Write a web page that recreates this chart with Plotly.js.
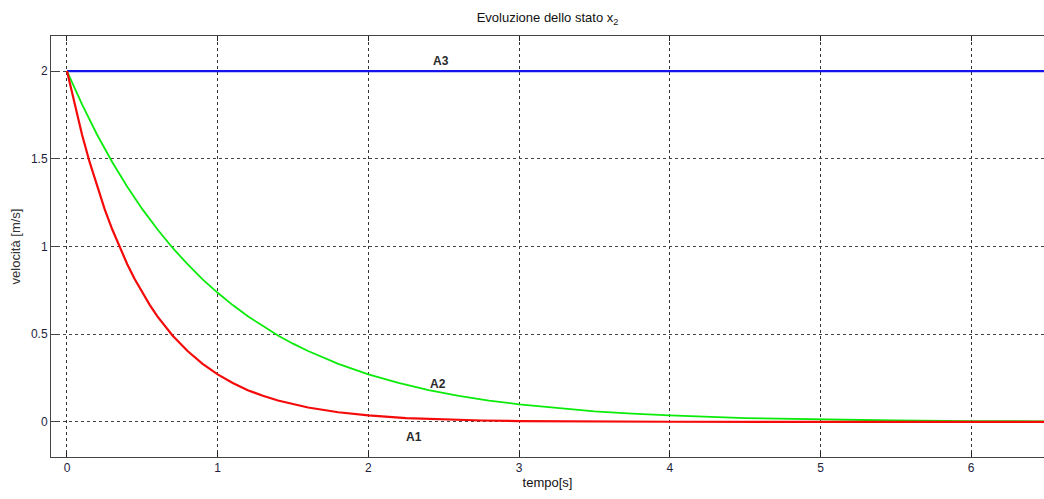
<!DOCTYPE html>
<html>
<head>
<meta charset="utf-8">
<script src="https://cdn.plot.ly/plotly-3.0.1.min.js"></script>
<style>
  html, body { margin: 0; padding: 0; background: #fff; }
  #chart { width: 1044px; height: 499px; }
</style>
</head>
<body>
<div id="chart"></div>
<script>
// Time samples [s] and state x2 (velocity, m/s) for the three cases
const tA1 = [0, 0.05, 0.1, 0.15, 0.2, 0.25, 0.3, 0.35, 0.4, 0.45, 0.5, 0.55, 0.6, 0.7, 0.8, 0.9, 1.0, 1.1, 1.2, 1.3, 1.4, 1.5, 1.6, 1.8, 2.0, 2.25, 2.5, 2.75, 3.0, 3.5, 4.0, 5.0, 6.5];
const vA1 = [2.0, 1.810, 1.637, 1.482, 1.341, 1.213, 1.098, 0.993, 0.899, 0.813, 0.736, 0.666, 0.602, 0.493, 0.404, 0.331, 0.271, 0.222, 0.181, 0.149, 0.122, 0.100, 0.082, 0.055, 0.037, 0.022, 0.013, 0.008, 0.005, 0.002, 0.001, 0.0, 0.0];

const tA2 = [0, 0.1, 0.2, 0.3, 0.4, 0.5, 0.6, 0.7, 0.8, 0.9, 1.0, 1.1, 1.2, 1.3, 1.4, 1.5, 1.6, 1.8, 2.0, 2.2, 2.4, 2.6, 2.8, 3.0, 3.25, 3.5, 3.75, 4.0, 4.5, 5.0, 5.5, 6.0, 6.5];
const vA2 = [2.0, 1.810, 1.637, 1.482, 1.341, 1.213, 1.098, 0.993, 0.899, 0.813, 0.736, 0.666, 0.602, 0.545, 0.493, 0.446, 0.404, 0.331, 0.271, 0.222, 0.181, 0.149, 0.122, 0.100, 0.078, 0.060, 0.047, 0.037, 0.022, 0.013, 0.008, 0.005, 0.003];

const tA3 = [0, 6.5];
const vA3 = [2, 2];

// Curve labels and where they sit
const labelText = ["A3", "A2", "A1"];
const labelT = [2.48, 2.46, 2.30];
const labelV = [2.06, 0.215, -0.085];

const xTicks = [0, 1, 2, 3, 4, 5, 6];
const yTicks = [0, 0.5, 1, 1.5, 2];

const font = "Liberation Sans, Arial, sans-serif";

const traces = [
  { x: tA3, y: vA3, mode: "lines", line: { color: "rgb(20,20,235)", width: 2.2 }, name: "A3" },
  { x: tA2, y: vA2, mode: "lines", line: { color: "rgb(10,235,10)", width: 1.8 }, name: "A2" },
  { x: tA1, y: vA1, mode: "lines", line: { color: "rgb(245,10,10)", width: 2.2 }, name: "A1" }
];

const annotations = labelText.map((s, i) => ({
  x: labelT[i], y: labelV[i], xref: "x", yref: "y",
  text: "<b>" + s + "</b>", showarrow: false,
  font: { family: font, size: 12, color: "#2a2a2a" }
}));

const layout = {
  width: 1044, height: 499,
  margin: { l: 51, r: 0, t: 36, b: 42 },
  paper_bgcolor: "#fff", plot_bgcolor: "#fff",
  showlegend: false,
  font: { family: font, size: 12, color: "#222" },
  title: {
    text: "Evoluzione dello stato x<sub>2</sub>",
    font: { family: font, size: 13, color: "#111" },
    xref: "paper", x: 0.5, yref: "container", y: 0.965, yanchor: "middle"
  },
  xaxis: {
    range: [-0.106, 6.483],
    tickvals: xTicks, ticktext: xTicks.map(String),
    ticks: "inside", ticklen: 5, tickcolor: "#222", tickwidth: 1,
    showline: true, linecolor: "#444", linewidth: 1, mirror: "ticks",
    showgrid: true, gridcolor: "#333", gridwidth: 1, griddash: "3px,3px",
    zeroline: false,
    tickfont: { family: font, size: 12, color: "#1e1e3c" },
    title: { text: "tempo[s]", font: { family: font, size: 13, color: "#111" }, standoff: 3 }
  },
  yaxis: {
    range: [-0.2, 2.2],
    tickvals: yTicks, ticktext: yTicks.map(String),
    ticks: "inside", ticklen: 6, tickcolor: "#444", tickwidth: 1,
    showline: true, linecolor: "#444", linewidth: 1,
    showgrid: true, gridcolor: "#444", gridwidth: 1, griddash: "3px,3px",
    zeroline: false,
    tickfont: { family: font, size: 12, color: "#1e1e3c" },
    title: { text: "velocità [m/s]", font: { family: font, size: 13, color: "#333" }, standoff: 7 }
  },
  annotations: annotations
};

Plotly.newPlot("chart", traces, layout, { displayModeBar: false, staticPlot: true });
</script>
</body>
</html>
